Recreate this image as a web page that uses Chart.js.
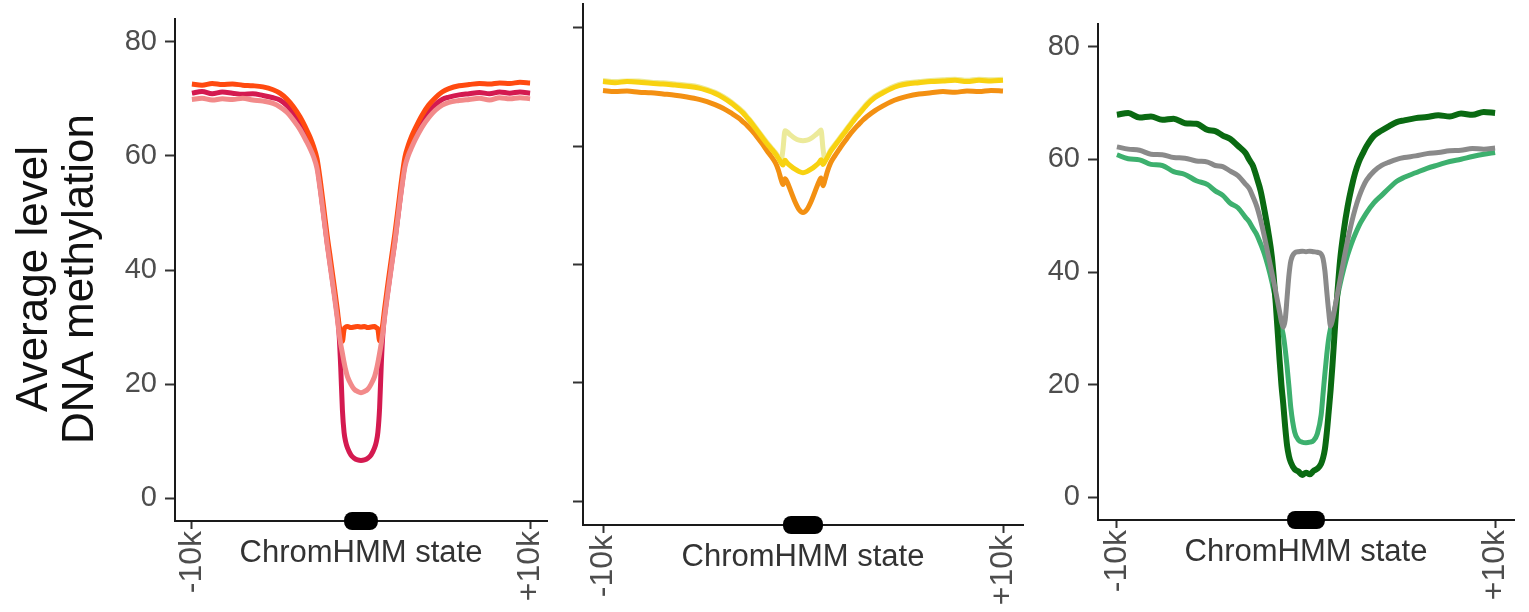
<!DOCTYPE html>
<html lang="en">
<head>
<meta charset="UTF-8">
<title>DNA methylation around ChromHMM states</title>
<script src="https://cdn.jsdelivr.net/npm/chart.js@4.4.1/dist/chart.umd.min.js"></script>
<style>
  html, body { margin: 0; padding: 0; background: #fff; }
  #wrap { position: relative; width: 1529px; height: 612px; overflow: hidden; }
  .panel { position: absolute; top: 0; height: 612px; }
</style>
</head>
<body>
<div id="wrap">
  <div class="panel" style="left:0;width:560px"><canvas id="p1"></canvas></div>
  <div class="panel" style="left:560px;width:480px"><canvas id="p2"></canvas></div>
  <div class="panel" style="left:1040px;width:489px"><canvas id="p3"></canvas></div>
</div>
<script>
// bins along the meta-profile: 0 = -10k, 45..55 = state body (scaled), 100 = +10k
const positions = [0, 3, 6, 9, 12, 15, 18, 21, 24, 26, 28, 30, 32, 34, 35, 36, 37, 38, 39, 40, 41, 42, 43, 43.5, 44, 44.5, 45, 45.5, 46, 47, 48, 49,
  50,
  51, 52, 53, 54, 54.5, 55, 55.5, 56, 56.5, 57, 58, 59, 60, 61, 62, 63, 64, 65, 66, 68, 70, 72, 74, 76, 79, 82, 85, 88, 91, 94, 97, 100];
const stateStart = 45;
const stateEnd = 55;
const xTickValues = [0, 100];
const xTickLabels = ['-10k', '+10k'];
const yTickValues = [0, 20, 40, 60, 80];
const yTitle = ['Average level', 'DNA methylation'];
const xTitle = 'ChromHMM state';

// panel 1
const p1Orange = [72.6, 72.4, 72.7, 72.5, 72.6, 72.4, 72.3, 72.1, 71.6, 71.0, 70.0, 68.6, 66.8, 64.5, 63.2, 61.6, 59.5, 55.5, 50.8, 46.0, 41.8, 37.5, 33.0, 30.5, 28.6, 27.5, 29.6, 30.0, 30.1, 29.9, 30.0, 30.1,
  30.0,
  30.1, 29.9, 30.0, 30.1, 29.9, 29.6, 27.6, 28.8, 30.8, 33.3, 37.8, 42.1, 46.3, 51.0, 55.8, 59.8, 61.9, 63.5, 64.8, 67.1, 68.9, 70.2, 71.2, 71.8, 72.3, 72.5, 72.7, 72.6, 72.8, 72.7, 72.9, 72.8];
const p1Crimson = [71.0, 71.3, 70.9, 71.2, 71.0, 70.8, 70.9, 70.6, 70.2, 69.8, 68.9, 67.5, 65.8, 63.5, 62.2, 60.6, 58.5, 54.2, 49.5, 44.8, 40.6, 36.4, 32.0, 29.0, 23.0, 15.5, 11.5, 9.8, 8.8, 7.6, 7.0, 6.7,
  6.6,
  6.7, 7.0, 7.6, 8.8, 9.8, 11.6, 15.8, 23.5, 29.2, 32.2, 36.6, 40.9, 45.0, 49.8, 54.5, 58.7, 60.8, 62.4, 63.7, 66.0, 67.7, 69.0, 69.9, 70.3, 70.7, 70.9, 71.1, 70.9, 71.2, 71.0, 71.2, 71.0];
const p1Pink = [69.9, 70.1, 69.8, 70.0, 69.9, 70.1, 69.8, 69.6, 69.2, 68.6, 67.7, 66.3, 64.6, 62.4, 61.2, 59.8, 57.8, 53.8, 49.2, 44.5, 40.2, 36.0, 31.5, 29.0, 27.0, 25.4, 23.8, 22.4, 21.3, 20.0, 19.1, 18.7,
  18.5,
  18.7, 19.1, 20.0, 21.3, 22.4, 23.8, 25.4, 27.2, 29.3, 31.8, 36.3, 40.6, 44.8, 49.6, 54.2, 58.1, 60.1, 61.5, 62.8, 65.0, 66.7, 68.0, 68.9, 69.4, 69.7, 69.9, 70.1, 69.8, 70.2, 70.0, 70.2, 70.0];

// panel 2
const p2Yellow = [70.9, 70.7, 70.9, 70.8, 70.6, 70.5, 70.3, 70.1, 69.8, 69.4, 68.9, 68.2, 67.3, 66.2, 65.6, 64.8, 64.0, 63.1, 62.2, 61.3, 60.4, 59.6, 58.8, 58.3, 57.8, 57.2, 56.8, 57.6, 57.2, 56.6, 56.1, 55.7,
  55.5,
  55.7, 56.1, 56.6, 57.2, 57.7, 56.9, 57.4, 58.0, 58.6, 59.2, 60.1, 61.0, 61.9, 62.8, 63.7, 64.6, 65.4, 66.2, 67.0, 68.2, 69.0, 69.7, 70.2, 70.5, 70.7, 70.9, 71.0, 71.1, 70.9, 71.1, 71.0, 71.1];
const p2Orange = [69.4, 69.2, 69.3, 69.1, 69.0, 68.8, 68.6, 68.3, 67.9, 67.5, 67.0, 66.4, 65.6, 64.7, 64.1, 63.5, 62.8, 62.0, 61.1, 60.2, 59.2, 58.3, 57.3, 56.6, 55.6, 54.4, 53.5, 54.5, 54.0, 52.3, 50.6, 49.3,
  48.8,
  49.3, 50.6, 52.3, 54.0, 54.6, 53.3, 54.3, 55.5, 56.5, 57.3, 58.4, 59.4, 60.4, 61.3, 62.2, 63.0, 63.7, 64.4, 65.0, 66.0, 66.8, 67.5, 68.0, 68.4, 68.8, 69.0, 69.2, 69.1, 69.3, 69.2, 69.4, 69.3];
const p2Pale = [71.1, 70.9, 71.0, 71.0, 70.8, 70.7, 70.5, 70.3, 70.0, 69.6, 69.1, 68.4, 67.5, 66.4, 65.8, 65.0, 64.2, 63.3, 62.4, 61.5, 60.6, 59.8, 59.0, 58.5, 58.0, 57.5, 59.5, 62.6, 62.4, 61.8, 61.3, 61.0,
  60.9,
  61.0, 61.3, 61.8, 62.4, 62.7, 59.6, 57.6, 58.2, 58.8, 59.4, 60.3, 61.2, 62.1, 63.0, 63.9, 64.8, 65.6, 66.4, 67.2, 68.4, 69.2, 69.9, 70.4, 70.7, 70.9, 71.1, 71.2, 71.3, 71.1, 71.3, 71.2, 71.3];

// panel 3
const p3DarkGreen = [67.9, 68.2, 67.4, 67.6, 67.0, 67.2, 66.4, 66.3, 65.2, 65.0, 64.2, 63.6, 62.4, 61.1, 59.9, 58.8, 56.7, 54.4, 51.0, 47.2, 42.5, 34.5, 24.5, 20.0, 16.5, 12.5, 9.2, 7.3, 6.2, 5.0, 4.6, 4.0,
  4.4,
  4.1, 4.7, 5.1, 6.0, 7.0, 8.6, 11.5, 15.2, 19.0, 23.5, 33.5, 42.0, 47.4, 51.6, 54.9, 57.6, 59.6, 61.0, 62.3, 64.2, 65.1, 65.9, 66.6, 66.9, 67.3, 67.5, 67.8, 67.6, 68.1, 67.9, 68.4, 68.2];
const p3Grey = [62.2, 61.8, 61.6, 60.9, 60.8, 60.3, 60.2, 59.7, 59.5, 58.9, 58.7, 57.9, 57.1, 55.6, 54.8, 53.3, 51.6, 49.2, 46.3, 43.0, 39.8, 36.5, 33.0, 31.2, 30.2, 31.5, 35.5, 39.5, 42.0, 43.4, 43.6, 43.7,
  43.6,
  43.7, 43.6, 43.5, 43.2, 42.4, 40.2, 36.5, 33.0, 30.4, 31.5, 35.0, 38.6, 42.2, 45.6, 48.6, 51.2, 53.3, 55.0, 56.3, 57.9, 58.9, 59.5, 60.0, 60.3, 60.6, 61.0, 61.2, 61.5, 61.6, 61.9, 61.8, 62.0];
const p3MidGreen = [60.8, 60.1, 59.9, 59.1, 58.9, 57.8, 57.3, 56.2, 55.5, 54.4, 53.6, 52.2, 51.4, 49.7, 48.9, 47.7, 46.6, 45.0, 43.2, 40.9, 38.2, 35.0, 31.8, 30.3, 28.8, 26.3, 23.2, 19.6, 15.8, 11.6, 10.2, 9.8,
  9.7,
  9.8, 10.1, 11.3, 14.6, 18.3, 22.0, 25.4, 28.2, 30.0, 31.5, 34.6, 37.8, 40.6, 43.0, 45.0, 46.7, 48.2, 49.4, 50.5, 52.3, 53.6, 54.9, 56.1, 56.8, 57.6, 58.4, 59.0, 59.6, 60.0, 60.5, 60.9, 61.2];

const FONT = '"Liberation Sans", Arial, Helvetica, sans-serif';

// black bar for the state body on the x axis, axis title, and the shared y title
const stateMarker = {
  id: 'stateMarker',
  afterDraw(chart, args, opts) {
    const ctx = chart.ctx;
    const area = chart.chartArea;
    const xs = chart.scales.x;
    const x0 = xs.getPixelForValue(stateStart);
    const x1 = xs.getPixelForValue(stateEnd);
    const h = 18, r = 8, top = area.bottom - h / 2;
    ctx.save();
    ctx.fillStyle = '#000';
    ctx.beginPath();
    ctx.moveTo(x0 + r, top);
    ctx.lineTo(x1 - r, top);
    ctx.arcTo(x1, top, x1, top + r, r);
    ctx.lineTo(x1, top + h - r);
    ctx.arcTo(x1, top + h, x1 - r, top + h, r);
    ctx.lineTo(x0 + r, top + h);
    ctx.arcTo(x0, top + h, x0, top + h - r, r);
    ctx.lineTo(x0, top + r);
    ctx.arcTo(x0, top, x0 + r, top, r);
    ctx.closePath();
    ctx.fill();

    ctx.fillStyle = '#333';
    ctx.font = '31px ' + FONT;
    ctx.textAlign = 'center';
    ctx.textBaseline = 'middle';
    ctx.fillText(xTitle, (x0 + x1) / 2, area.bottom + 32);

    if (opts.yTitle) {
      ctx.fillStyle = '#111';
      ctx.font = '44px ' + FONT;
      ctx.translate(35, (area.top + area.bottom) / 2 + 9);
      ctx.rotate(-Math.PI / 2);
      ctx.fillText(yTitle[0], 0, 0);
      ctx.fillText(yTitle[1], 0, 46);
    }
    ctx.restore();
  }
};

function buildPanel(id, series, cfg) {
  return new Chart(document.getElementById(id), {
    type: 'line',
    data: {
      datasets: series.map(s => ({
        data: positions.map((x, i) => ({ x: x, y: s.values[i] })),
        borderColor: s.color,
        borderWidth: s.width,
        pointRadius: 0,
        cubicInterpolationMode: 'monotone',
        fill: false
      }))
    },
    options: {
      responsive: true,
      maintainAspectRatio: false,
      animation: false,
      layout: { padding: { left: 0, right: cfg.right, top: cfg.top, bottom: 0 } },
      plugins: {
        legend: { display: false },
        tooltip: { enabled: false },
        stateMarker: { yTitle: cfg.yTitle }
      },
      scales: {
        x: {
          type: 'linear',
          min: -5,
          max: 105,
          afterBuildTicks: s => { s.ticks = xTickValues.map(v => ({ value: v })); },
          afterFit: s => { s.height = cfg.xHeight; s.paddingLeft = 0; s.paddingRight = 0; },
          ticks: {
            autoSkip: false,
            minRotation: 90,
            maxRotation: 90,
            padding: 2,
            color: '#4d4d4d',
            font: { family: FONT, size: 32 },
            callback: v => xTickLabels[xTickValues.indexOf(v)]
          },
          grid: { display: true, drawOnChartArea: false, drawTicks: true, tickLength: 8, tickWidth: 2, tickColor: '#333' },
          border: { display: true, color: '#1a1a1a', width: 2 }
        },
        y: {
          min: -4,
          max: 84,
          afterBuildTicks: s => { s.ticks = yTickValues.map(v => ({ value: v })); },
          afterFit: s => { s.width = cfg.yWidth; s.paddingTop = 0; s.paddingBottom = 0; },
          ticks: {
            padding: 8,
            color: '#4d4d4d',
            font: { family: FONT, size: 29 },
            callback: v => cfg.yLabels ? String(v) : ''
          },
          grid: { display: true, drawOnChartArea: false, drawTicks: true, tickLength: 10, tickWidth: 2, tickColor: '#333' },
          border: { display: true, color: '#1a1a1a', width: 2 }
        }
      }
    },
    plugins: [stateMarker]
  });
}

// first dataset is drawn on top
buildPanel('p1', [
  { values: p1Pink, color: '#f28a8a', width: 5 },
  { values: p1Orange, color: '#ff4a10', width: 5 },
  { values: p1Crimson, color: '#d41a50', width: 5 }
], { yWidth: 175, xHeight: 91, right: 13, top: 19, yLabels: true, yTitle: true });

buildPanel('p2', [
  { values: p2Yellow, color: '#f8d210', width: 5 },
  { values: p2Orange, color: '#f39012', width: 5 },
  { values: p2Pale, color: '#ecea9a', width: 5 }
], { yWidth: 23, xHeight: 87, right: 17, top: 4, yLabels: false, yTitle: false });

buildPanel('p3', [
  { values: p3Grey, color: '#8a8a8a', width: 5 },
  { values: p3DarkGreen, color: '#0a6a12', width: 6 },
  { values: p3MidGreen, color: '#3db06e', width: 5 }
], { yWidth: 58, xHeight: 92, right: 15, top: 24, yLabels: true, yTitle: false });
</script>
</body>
</html>
